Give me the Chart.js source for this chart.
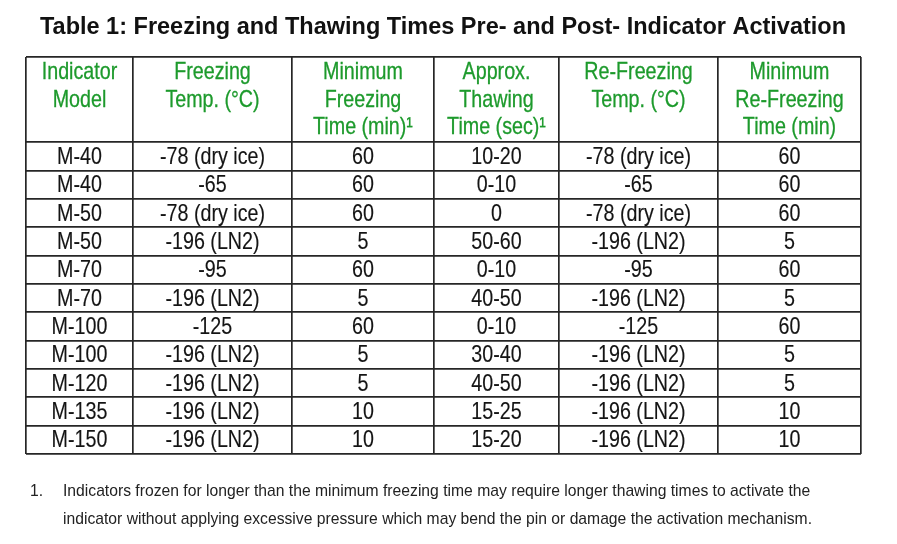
<!DOCTYPE html>
<html>
<head>
<meta charset="utf-8">
<script src="https://cdn.jsdelivr.net/npm/chart.js@4.4.0/dist/chart.umd.min.js"></script>
<style>
  html, body { margin: 0; padding: 0; background: #ffffff; }
  #wrap { width: 897px; height: 544px; }
</style>
</head>
<body>
<div id="wrap"><canvas id="freezeTable" width="897" height="544"></canvas></div>
<script>
// Table contents
const headers = [
  ['Indicator', 'Model'],
  ['Freezing', 'Temp. (°C)'],
  ['Minimum', 'Freezing', 'Time (min)¹'],
  ['Approx.', 'Thawing', 'Time (sec)¹'],
  ['Re-Freezing', 'Temp. (°C)'],
  ['Minimum', 'Re-Freezing', 'Time (min)']
];
const models = ['M-40', 'M-40', 'M-50', 'M-50', 'M-70', 'M-70', 'M-100', 'M-100', 'M-120', 'M-135', 'M-150'];
const freezeTemps = ['-78 (dry ice)', '-65', '-78 (dry ice)', '-196 (LN2)', '-95', '-196 (LN2)', '-125', '-196 (LN2)', '-196 (LN2)', '-196 (LN2)', '-196 (LN2)'];
const minFreezeTimes = ['60', '60', '60', '5', '60', '5', '60', '5', '5', '10', '10'];
const thawTimes = ['10-20', '0-10', '0', '50-60', '0-10', '40-50', '0-10', '30-40', '40-50', '15-25', '15-20'];
const refreezeTemps = ['-78 (dry ice)', '-65', '-78 (dry ice)', '-196 (LN2)', '-95', '-196 (LN2)', '-125', '-196 (LN2)', '-196 (LN2)', '-196 (LN2)', '-196 (LN2)'];
const minRefreezeTimes = ['60', '60', '60', '5', '60', '5', '60', '5', '5', '10', '10'];

const titleText = 'Table 1: Freezing and Thawing Times Pre- and Post- Indicator Activation';
const footnoteLines = [
  'Indicators frozen for longer than the minimum freezing time may require longer thawing times to activate the',
  'indicator without applying excessive pressure which may bend the pin or damage the activation mechanism.'
];

// Layout: relative column widths and header height (in row units)
const colWidths = [107, 159, 142, 125, 159, 143];
const HEADER_ROWS = 3;
const FONT = '"Liberation Sans", Arial, sans-serif';
const NARROW = 0.82; // condensed look of the table text
const GREEN = '#1d9a2c';
const LINE = '#262626';

const columns = [models, freezeTemps, minFreezeTimes, thawTimes, refreezeTemps, minRefreezeTimes];
const colEdges = [0];
colWidths.forEach(w => colEdges.push(colEdges[colEdges.length - 1] + w));
const colCenters = colWidths.map((w, i) => colEdges[i] + w / 2);
const rowCount = models.length;

const datasets = columns.map((col, c) => ({
  label: headers[c].join(' '),
  data: col.map((text, r) => ({ x: colCenters[c], y: HEADER_ROWS + r + 0.5, text })),
  pointRadius: 0,
  pointHoverRadius: 0
}));

// condensed text, with an optional hairline stroke to thicken it a little
function narrowText(ctx, text, x, y, weight) {
  ctx.save();
  ctx.translate(x, y);
  ctx.scale(NARROW, 1);
  ctx.fillText(text, 0, 0);
  if (weight) {
    ctx.strokeStyle = ctx.fillStyle;
    ctx.lineWidth = weight;
    ctx.strokeText(text, 0, 0);
  }
  ctx.restore();
}

// Draws cell texts at the points placed by the scales, plus header, title and footnote
const tableTextPlugin = {
  id: 'tableText',
  afterDatasetsDraw(chart) {
    const ctx = chart.ctx;
    const xs = chart.scales.x;
    const ys = chart.scales.y;
    ctx.save();
    ctx.textAlign = 'center';
    ctx.textBaseline = 'middle';

    // body cells
    ctx.fillStyle = '#141414';
    ctx.font = '24px ' + FONT;
    chart.data.datasets.forEach((ds, i) => {
      chart.getDatasetMeta(i).data.forEach((pt, j) => {
        narrowText(ctx, ds.data[j].text, pt.x, pt.y + 1, 0.15);
      });
    });

    // header cells
    ctx.fillStyle = GREEN;
    ctx.font = '24px ' + FONT;
    headers.forEach((lines, c) => {
      lines.forEach((line, k) => {
        narrowText(ctx, line, xs.getPixelForValue(colCenters[c]), ys.getPixelForValue(0.52 + k * 0.96) + 1, 0.3);
      });
    });

    // title
    ctx.fillStyle = '#111111';
    ctx.font = 'bold 23.5px ' + FONT;
    ctx.fillText(titleText, 443, 28);

    // footnote
    ctx.textAlign = 'left';
    ctx.textBaseline = 'alphabetic';
    ctx.fillStyle = '#222222';
    ctx.font = '15.7px ' + FONT;
    ctx.fillText('1.', 30, 496);
    footnoteLines.forEach((line, k) => ctx.fillText(line, 63, 496 + k * 28));
    ctx.restore();
  }
};

new Chart(document.getElementById('freezeTable'), {
  type: 'scatter',
  data: { datasets },
  options: {
    responsive: false,
    animation: false,
    events: [],
    layout: { padding: { left: 26, top: 57, right: 36, bottom: 90 } },
    plugins: {
      legend: { display: false },
      tooltip: { enabled: false },
      title: { display: false }
    },
    scales: {
      x: {
        type: 'linear',
        min: 0,
        max: colEdges[colEdges.length - 1],
        afterBuildTicks: scale => { scale.ticks = colEdges.map(v => ({ value: v })); },
        ticks: { display: false },
        border: { display: false },
        grid: { color: LINE, lineWidth: 1.7, drawTicks: false }
      },
      y: {
        type: 'linear',
        reverse: true,
        min: 0,
        max: HEADER_ROWS + rowCount,
        afterBuildTicks: scale => {
          const t = [0];
          for (let r = 0; r <= rowCount; r++) t.push(HEADER_ROWS + r);
          scale.ticks = t.map(v => ({ value: v }));
        },
        ticks: { display: false },
        border: { display: false },
        grid: { color: LINE, lineWidth: 1.7, drawTicks: false }
      }
    }
  },
  plugins: [tableTextPlugin]
});
</script>
</body>
</html>
